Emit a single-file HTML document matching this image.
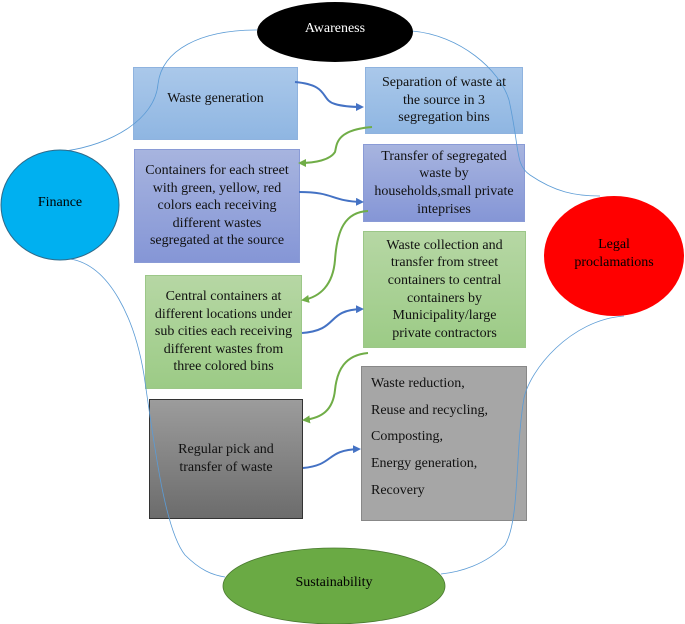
<!DOCTYPE html>
<html><head><meta charset="utf-8"><style>
html,body{margin:0;padding:0;background:#fff;}
body{width:685px;height:624px;position:relative;overflow:hidden;font-family:"Liberation Serif",serif;color:#111;}
.b{position:absolute;box-sizing:border-box;display:flex;align-items:center;justify-content:center;text-align:center;font-size:14px;line-height:17.6px;}
.blue{background:linear-gradient(#aac8ea,#8fb6e2);border:1px solid #8fb3df;}
.purple{background:linear-gradient(#a7b4df,#8596d6);border:1px solid #8a9bd6;}
.green{background:linear-gradient(#b6d7a4,#9ccb86);border:1px solid #9cc788;}
svg{position:absolute;left:0;top:0;}
</style></head><body>
<div class="b blue" style="left:133px;top:67px;width:165px;height:73px;padding-bottom:10px;">Waste generation</div>
<div class="b blue" style="left:365px;top:67px;width:158px;height:67px;">Separation of waste at<br>the source in 3<br>segregation bins</div>
<div class="b purple" style="left:134px;top:149px;width:166px;height:114px;">Containers for each street<br>with green, yellow, red<br>colors each receiving<br>different wastes<br>segregated at the source</div>
<div class="b purple" style="left:363px;top:144px;width:162px;height:78px;">Transfer of segregated<br>waste by<br>households,small private<br>inteprises</div>
<div class="b green" style="left:145px;top:275px;width:157px;height:114px;">Central containers at<br>different locations under<br>sub cities each receiving<br>different wastes from<br>three colored bins</div>
<div class="b green" style="left:363px;top:231px;width:163px;height:117px;">Waste collection and<br>transfer from street<br>containers to central<br>containers by<br>Municipality/large<br>private contractors</div>
<div class="b" style="left:149px;top:399px;width:154px;height:120px;background:linear-gradient(#9c9c9c,#6c6c6c);border:1.5px solid #333;">Regular pick and<br>transfer of waste</div>
<div class="b" style="left:361px;top:366px;width:166px;height:155px;background:#a6a6a6;border:1.5px solid #888;display:block;text-align:left;padding:4px 0 0 9px;line-height:26.7px;">Waste reduction,<br>Reuse and recycling,<br>Composting,<br>Energy generation,<br>Recovery</div>
<svg width="685" height="624" viewBox="0 0 685 624">
<defs>
<marker id="ab" markerWidth="8" markerHeight="8" refX="6" refY="4" orient="auto" markerUnits="userSpaceOnUse"><path d="M0,0 L8,4 L0,8 Z" fill="#4472c4"/></marker>
<marker id="ag" markerWidth="8" markerHeight="8" refX="6" refY="4" orient="auto" markerUnits="userSpaceOnUse"><path d="M0,0 L8,4 L0,8 Z" fill="#70ad47"/></marker>
</defs>
<g fill="none" stroke="#5b9bd5" stroke-width="0.8">
<path d="M257,30 C200,30 162,50 158,84 C155,120 110,145 65,151"/>
<path d="M412,31 C460,35 500,70 509,100 C520,150 515,165 530,175 C555,192 575,196 600,196"/>
<path d="M70,259 C110,265 135,320 144,375 C155,450 165,530 185,555 C200,570 212,575 225,577"/>
<path d="M624,316 C570,320 530,370 524,398 C515,450 520,520 505,545 C485,565 460,572 441,574"/>
</g>
<g fill="none" stroke-width="2">
<path d="M295,82 C330,85 320,100 335,104 C345,107 355,107 362,107" stroke="#4472c4" marker-end="url(#ab)"/>
<path d="M299,192 C335,192 330,201 362,202" stroke="#4472c4" marker-end="url(#ab)"/>
<path d="M302,333 C340,330 325,310 362,309" stroke="#4472c4" marker-end="url(#ab)"/>
<path d="M303,468 C335,465 325,450 359,449" stroke="#4472c4" marker-end="url(#ab)"/>
<path d="M372,127 C335,130 337,145 335,152 C330,160 315,163 300,163" stroke="#70ad47" marker-end="url(#ag)"/>
<path d="M368,211 C345,212 337,230 335,260 C333,285 320,297 303,300" stroke="#70ad47" marker-end="url(#ag)"/>
<path d="M368,353 C345,355 337,370 335,390 C333,410 322,418 304,420" stroke="#70ad47" marker-end="url(#ag)"/>
</g>
<ellipse cx="335" cy="32" rx="78" ry="30" fill="#000"/>
<text x="335" y="32" fill="#fff" font-size="14" text-anchor="middle" font-family="Liberation Serif">Awareness</text>
<ellipse cx="60" cy="205" rx="59" ry="55" fill="#00b0f0" stroke="#2f6a8a" stroke-width="1"/>
<text x="60" y="206" font-size="14" text-anchor="middle" font-family="Liberation Serif">Finance</text>
<ellipse cx="614" cy="256" rx="70" ry="60" fill="#ff0000"/>
<text x="614" y="248" font-size="14" text-anchor="middle" font-family="Liberation Serif">Legal</text>
<text x="614" y="266" font-size="14" text-anchor="middle" font-family="Liberation Serif">proclamations</text>
<ellipse cx="334" cy="586" rx="111" ry="38" fill="#6aaa44" stroke="#4a7a30" stroke-width="0.8"/>
<text x="334" y="586" font-size="14" text-anchor="middle" font-family="Liberation Serif">Sustainability</text>
</svg>
</body></html>
